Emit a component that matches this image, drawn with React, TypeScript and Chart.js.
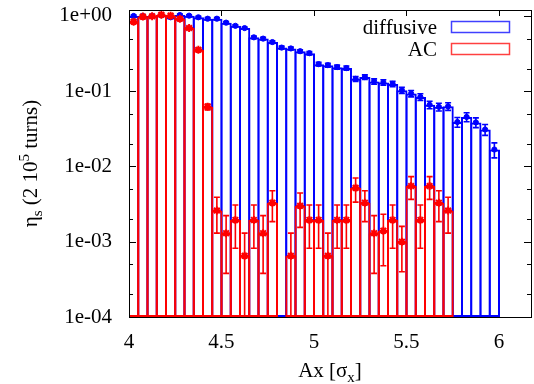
import React, { useEffect, useRef } from "react";
import { Chart, registerables } from "chart.js";

Chart.register(...registerables);

// ---- data ----
const binCenters = [
  4.025, 4.075, 4.125, 4.175, 4.225, 4.275, 4.325, 4.375, 4.425, 4.475,
  4.525, 4.575, 4.625, 4.675, 4.725, 4.775, 4.825, 4.875, 4.925, 4.975,
  5.025, 5.075, 5.125, 5.175, 5.225, 5.275, 5.325, 5.375, 5.425, 5.475,
  5.525, 5.575, 5.625, 5.675, 5.725, 5.775, 5.825, 5.875, 5.925, 5.975,
];

const diffusive = [
  1.0, 1.0, 1.0, 1.02, 0.96, 1.03, 1.01, 0.96, 0.92, 0.92,
  0.815, 0.74, 0.69, 0.52, 0.5, 0.45, 0.38, 0.37, 0.34, 0.32,
  0.229, 0.222, 0.209, 0.203, 0.146, 0.154, 0.135, 0.131, 0.125, 0.103,
  0.093, 0.084, 0.066, 0.062, 0.063, 0.039, 0.0455, 0.0385, 0.031, 0.0168,
];

const diffusiveErr = [
  0.03, 0.03, 0.03, 0.03, 0.03, 0.03, 0.03, 0.03, 0.03, 0.03,
  0.025, 0.025, 0.024, 0.02, 0.02, 0.019, 0.017, 0.017, 0.016, 0.016,
  0.013, 0.013, 0.013, 0.013, 0.011, 0.011, 0.011, 0.011, 0.01, 0.0095,
  0.009, 0.0085, 0.0075, 0.0073, 0.0073, 0.0058, 0.0062, 0.0057, 0.0051, 0.0038,
];

const ac = [
  0.84, 0.98, 0.99, 1.04, 1.01, 0.92, 0.69, 0.355, 0.062, 0.0026,
  0.0013, 0.00195, 0.00065, 0.00195, 0.0013, 0.0033, null, 0.00065, 0.003, 0.00195,
  0.00195, 0.00065, 0.00195, 0.00195, 0.0052, 0.0033, 0.0013, 0.0014, 0.00195, 0.001,
  0.0055, 0.00195, 0.0055, 0.0033, 0.0026,
];

const acErr = [
  0.03, 0.03, 0.03, 0.03, 0.03, 0.03, 0.025, 0.016, 0.0055, 0.0013,
  0.00092, 0.00113, 0.00065, 0.00113, 0.00092, 0.00145, null, 0.00065, 0.00145, 0.00113,
  0.00113, 0.00065, 0.00113, 0.00113, 0.00184, 0.00145, 0.00092, 0.00092, 0.00113, 0.0006,
  0.00184, 0.00113, 0.00184, 0.00145, 0.0013,
];

const seriesNames = ["diffusive", "AC"];
const yTickValues = [1e-4, 1e-3, 1e-2, 1e-1, 1];
const yTickLabels = ["1e-04", "1e-03", "1e-02", "1e-01", "1e+00"];
const yMinorMultipliers = [2, 5];
const xTickValues = [4, 4.5, 5, 5.5, 6];
const xTickLabels = ["4", "4.5", "5", "5.5", "6"];

const BLUE = "#0000ff";
const RED = "#ff0000";
const FONT = "'Liberation Serif', 'Times New Roman', serif";
const Y_MIN = 1e-4;
const Y_MAX = 1.2;
const X_MIN = 4;
const X_MAX = 6.173;

function drawErrors(chart: any, values: (number | null)[], errs: (number | null)[], color: string) {
  const ctx = chart.ctx;
  const xs = chart.scales.x;
  const ys = chart.scales.y;
  const area = chart.chartArea;
  ctx.save();
  ctx.beginPath();
  ctx.rect(area.left, area.top, area.right - area.left, area.bottom - area.top);
  ctx.clip();
  ctx.strokeStyle = color;
  ctx.lineWidth = 1.6;
  values.forEach((v, i) => {
    if (v == null) return;
    const e = errs[i] || 0;
    const px = xs.getPixelForValue(binCenters[i]);
    const hi = ys.getPixelForValue(v + e);
    const loV = v - e;
    const lowClipped = !(loV > Y_MIN);
    const lo = lowClipped ? area.bottom : ys.getPixelForValue(loV);
    ctx.beginPath();
    ctx.moveTo(px, hi);
    ctx.lineTo(px, lo);
    ctx.moveTo(px - 3, hi);
    ctx.lineTo(px + 3, hi);
    if (!lowClipped) {
      ctx.moveTo(px - 3, lo);
      ctx.lineTo(px + 3, lo);
    }
    ctx.stroke();
  });
  ctx.restore();
}

function drawRich(ctx: CanvasRenderingContext2D, parts: { t: string; k: "n" | "sub" | "sup" }[], cx: number, baseY: number) {
  const big = `21px ${FONT}`;
  const small = `15px ${FONT}`;
  let total = 0;
  parts.forEach((p) => {
    ctx.font = p.k === "n" ? big : small;
    total += ctx.measureText(p.t).width;
  });
  let x = cx - total / 2;
  ctx.textAlign = "left";
  ctx.textBaseline = "alphabetic";
  parts.forEach((p) => {
    ctx.font = p.k === "n" ? big : small;
    const dy = p.k === "sub" ? 5 : p.k === "sup" ? -8 : 0;
    ctx.fillText(p.t, x, baseY + dy);
    x += ctx.measureText(p.t).width;
  });
}

const decorPlugin = {
  id: "decor",
  beforeDatasetsDraw(chart: any) {
    const ctx = chart.ctx;
    const a = chart.chartArea;
    const xs = chart.scales.x;
    const ys = chart.scales.y;
    ctx.save();
    ctx.strokeStyle = "#000";
    ctx.lineWidth = 1;
    ctx.beginPath();
    yTickValues.forEach((v) => {
      const py = Math.round(ys.getPixelForValue(v)) + 0.5;
      ctx.moveTo(a.left, py);
      ctx.lineTo(a.left + 7, py);
      ctx.moveTo(a.right, py);
      ctx.lineTo(a.right - 7, py);
      yMinorMultipliers.forEach((m) => {
        const mv = v * m;
        if (mv > Y_MAX) return;
        const my = Math.round(ys.getPixelForValue(mv)) + 0.5;
        ctx.moveTo(a.left, my);
        ctx.lineTo(a.left + 4, my);
        ctx.moveTo(a.right, my);
        ctx.lineTo(a.right - 4, my);
      });
    });
    xTickValues.forEach((v) => {
      const px = Math.round(xs.getPixelForValue(v)) + 0.5;
      ctx.moveTo(px, a.bottom);
      ctx.lineTo(px, a.bottom - 6);
      ctx.moveTo(px, a.top);
      ctx.lineTo(px, a.top + 6);
    });
    ctx.stroke();
    ctx.restore();
  },
  beforeDatasetDraw(chart: any, args: any) {
    if (args.index === 1) drawErrors(chart, diffusive, diffusiveErr, BLUE);
    if (args.index === 3) drawErrors(chart, ac, acErr, RED);
  },
  afterDraw(chart: any) {
    const ctx = chart.ctx;
    const a = chart.chartArea;
    ctx.save();
    ctx.strokeStyle = "#000";
    ctx.lineWidth = 1;
    ctx.strokeRect(Math.round(a.left) + 0.5, Math.round(a.top) + 0.5, Math.round(a.right - a.left), Math.round(a.bottom - a.top));
    ctx.fillStyle = "#000";
    ctx.font = `21px ${FONT}`;
    ctx.textAlign = "right";
    ctx.textBaseline = "alphabetic";
    ctx.fillText(seriesNames[0], 437, 34);
    ctx.fillText(seriesNames[1], 437, 56);
    ctx.lineWidth = 1.5;
    ctx.strokeStyle = "rgba(0,0,255,0.75)";
    ctx.strokeRect(451.5, 21.5, 58, 11);
    ctx.strokeStyle = "rgba(255,0,0,0.75)";
    ctx.strokeRect(451.5, 43.5, 58, 11);
    ctx.fillStyle = "#000";
    drawRich(ctx, [
      { t: "Ax [σ", k: "n" },
      { t: "x", k: "sub" },
      { t: "]", k: "n" },
    ], (a.left + a.right) / 2, 377);
    ctx.save();
    ctx.translate(37, (a.top + a.bottom) / 2);
    ctx.rotate(-Math.PI / 2);
    drawRich(ctx, [
      { t: "η", k: "n" },
      { t: "s", k: "sub" },
      { t: " (2 10", k: "n" },
      { t: "5", k: "sup" },
      { t: " turns)", k: "n" },
    ], 0, 0);
    ctx.restore();
    ctx.restore();
  },
};

export default function App() {
  const ref = useRef<HTMLCanvasElement | null>(null);
  useEffect(() => {
    document.body.style.margin = "0";
    const canvas = ref.current;
    if (!canvas) return;
    const binPx = 0.05 * 402 / (X_MAX - X_MIN);
    const barPct = 1 + 2 / binPx;
    const blueBars = binCenters.map((x, i) => ({ x, y: [Y_MIN, diffusive[i]] }));
    const redBars = ac.map((v, i) => ({ x: binCenters[i], y: v == null ? null : [Y_MIN, v] }));
    const bluePts = binCenters.map((x, i) => ({ x, y: diffusive[i] }));
    const redPts = ac.map((v, i) => ({ x: binCenters[i], y: v }));
    const chart = new Chart(canvas, {
      type: "bar",
      data: {
        datasets: [
          {
            type: "bar",
            label: seriesNames[0],
            data: blueBars as any,
            backgroundColor: "rgba(0,0,0,0)",
            borderColor: BLUE,
            borderWidth: 2,
            borderSkipped: false,
            grouped: false,
            barPercentage: barPct,
            categoryPercentage: 1,
            order: 3,
          } as any,
          {
            type: "line",
            label: seriesNames[0] + " pts",
            data: bluePts as any,
            showLine: false,
            pointStyle: "circle",
            pointRadius: 2.6,
            pointBackgroundColor: BLUE,
            pointBorderColor: BLUE,
            pointBorderWidth: 1,
            order: 2,
          } as any,
          {
            type: "bar",
            label: seriesNames[1],
            data: redBars as any,
            backgroundColor: "rgba(0,0,0,0)",
            borderColor: RED,
            borderWidth: 2,
            borderSkipped: false,
            grouped: false,
            barPercentage: barPct,
            categoryPercentage: 1,
            order: 1,
          } as any,
          {
            type: "line",
            label: seriesNames[1] + " pts",
            data: redPts as any,
            showLine: false,
            spanGaps: false,
            pointStyle: "star",
            pointRadius: 4,
            pointBackgroundColor: RED,
            pointBorderColor: RED,
            pointBorderWidth: 2,
            order: 0,
          } as any,
        ],
      },
      options: {
        responsive: false,
        animation: false,
        devicePixelRatio: 1,
        layout: { autoPadding: false, padding: { top: 10, right: 3, left: 0, bottom: 0 } },
        plugins: { legend: { display: false }, tooltip: { enabled: false } },
        scales: {
          x: {
            type: "linear",
            min: X_MIN,
            max: X_MAX,
            offset: false,
            grid: { display: false, drawTicks: false },
            border: { display: false },
            afterBuildTicks: (s: any) => {
              s.ticks = xTickValues.map((v) => ({ value: v }));
            },
            afterFit: (s: any) => {
              s.height = 67;
              s.paddingLeft = 0;
              s.paddingRight = 0;
            },
            ticks: {
              autoSkip: false,
              maxRotation: 0,
              padding: 13,
              color: "#000",
              font: { family: FONT, size: 21 },
              callback: (v: any) => {
                const i = xTickValues.findIndex((t) => Math.abs(t - Number(v)) < 1e-9);
                return i >= 0 ? xTickLabels[i] : "";
              },
            },
          },
          y: {
            type: "logarithmic",
            min: Y_MIN,
            max: Y_MAX,
            grid: { display: false, drawTicks: false },
            border: { display: false },
            afterBuildTicks: (s: any) => {
              s.ticks = yTickValues.map((v) => ({ value: v }));
            },
            afterFit: (s: any) => {
              s.width = 129;
              s.paddingTop = 0;
              s.paddingBottom = 0;
            },
            ticks: {
              autoSkip: false,
              padding: 17,
              color: "#000",
              font: { family: FONT, size: 21 },
              callback: (v: any) => {
                const i = yTickValues.findIndex((t) => Math.abs(Math.log10(t) - Math.log10(Number(v))) < 1e-6);
                return i >= 0 ? yTickLabels[i] : "";
              },
            },
          },
        },
      },
      plugins: [decorPlugin],
    });
    return () => chart.destroy();
  }, []);
  return (
    <div style={{ position: "absolute", left: 0, top: 0, width: 534, height: 384 }}>
      <canvas ref={ref} width={534} height={384} style={{ display: "block" }} />
    </div>
  );
}
